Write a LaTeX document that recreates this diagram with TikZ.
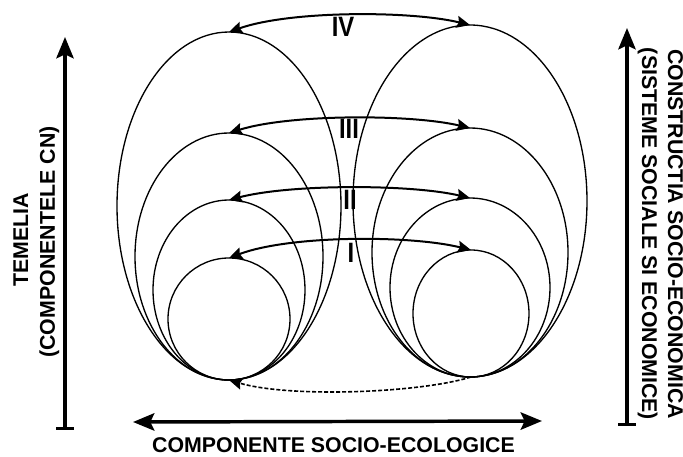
\documentclass[tikz,border=0pt]{standalone}
\usepackage{fontspec}
\setmainfont{Liberation Sans}
\usetikzlibrary{arrows.meta,shapes.geometric}
\begin{document}
\begin{tikzpicture}[x=0.75pt,y=-0.75pt,
  loop/.style={ellipse,draw,line width=1pt,inner sep=0pt,outer sep=0pt},
  link/.style={line width=1.5pt,{Stealth[length=10pt,width=9pt,inset=1.5pt]}-{Stealth[length=10pt,width=9pt,inset=1.5pt]}},
  dashlink/.style={line width=1.2pt,dash pattern=on 3pt off 1.5pt,-{Stealth[length=10pt,width=9pt,inset=1.5pt]}},
  axis/.style={line width=2.6pt},
  numeral/.style={font=\fontsize{21pt}{23pt}\selectfont\bfseries,inner sep=0pt,xscale=0.85},
  label/.style={font=\fontsize{16pt}{18pt}\selectfont\bfseries,inner sep=0pt,anchor=base}
]
\useasboundingbox (0,0) rectangle (683,457);

% left family
\node[loop,minimum width=168pt,minimum height=261pt] (L4) at (229,206) {};
\node[loop,minimum width=141pt,minimum height=185.25pt] (L3) at (229,256.5) {};
\node[loop,minimum width=114pt,minimum height=135pt] (L2) at (229,290) {};
\node[loop,minimum width=91.5pt,minimum height=91.5pt] (L1) at (229,319) {};
% right family
\node[loop,minimum width=175.5pt,minimum height=264pt] (R4) at (470,201) {};
\node[loop,minimum width=147pt,minimum height=186.75pt] (R3) at (470,252.5) {};
\node[loop,minimum width=120pt,minimum height=134.25pt] (R2) at (470,287.5) {};
\node[loop,minimum width=87pt,minimum height=95.25pt] (R1) at (471,313.5) {};

% links
\draw[link] (L4.north) .. controls (290,10.5) and (410,10.5) .. (R4.north);
\draw[link] (L3.north) .. controls (290,114) and (410,114) .. (R3.north);
\draw[link] (L2.north) .. controls (290,184) and (410,184) .. (R2.north);
\draw[link] (L1.north) .. controls (290,235) and (410,235) .. (R1.north);
\draw[dashlink] (R1.south) .. controls (420,393) and (290,398) .. (L1.south);

% numerals
\node[numeral] (n4) at (343,27) {IV};
\node[numeral] (n3) at (349,129) {III};
\node[numeral] (n2) at (350,200) {II};
\node[numeral] (n1) at (351,253) {I};

% axes
\coordinate (lb) at (65,430);
\coordinate (lt) at (65,37);
\coordinate (rb) at (627,426);
\coordinate (rt) at (627,28);
\coordinate (hl) at (133,422);
\coordinate (hr) at (542,421);
\draw[axis,{Bar[width=13pt]}-{Stealth[length=16pt,width=13pt,inset=3pt]}] (lb) -- (lt);
\draw[axis,{Bar[width=13pt]}-{Stealth[length=16pt,width=13pt,inset=3pt]}] (rb) -- (rt);
\draw[axis,{Stealth[length=16pt,width=13pt,inset=3pt]}-{Stealth[length=16pt,width=13pt,inset=3pt]}] (hl) -- (hr);

% labels
\node[label] (tb) at (333.5,452) {COMPONENTE SOCIO-ECOLOGICE};
\node[label,rotate=90] (tl1) at (28,240) {TEMELIA};
\node[label,rotate=90] (tl2) at (55,242) {(COMPONENTELE CN)};
\node[label,rotate=-90] (tr1) at (668,234) {CONSTRUCTIA SOCIO-ECONOMICA};
\node[label,rotate=-90] (tr2) at (642,234) {(SISTEME SOCIALE SI ECONOMICE)};
\end{tikzpicture}
\end{document}
